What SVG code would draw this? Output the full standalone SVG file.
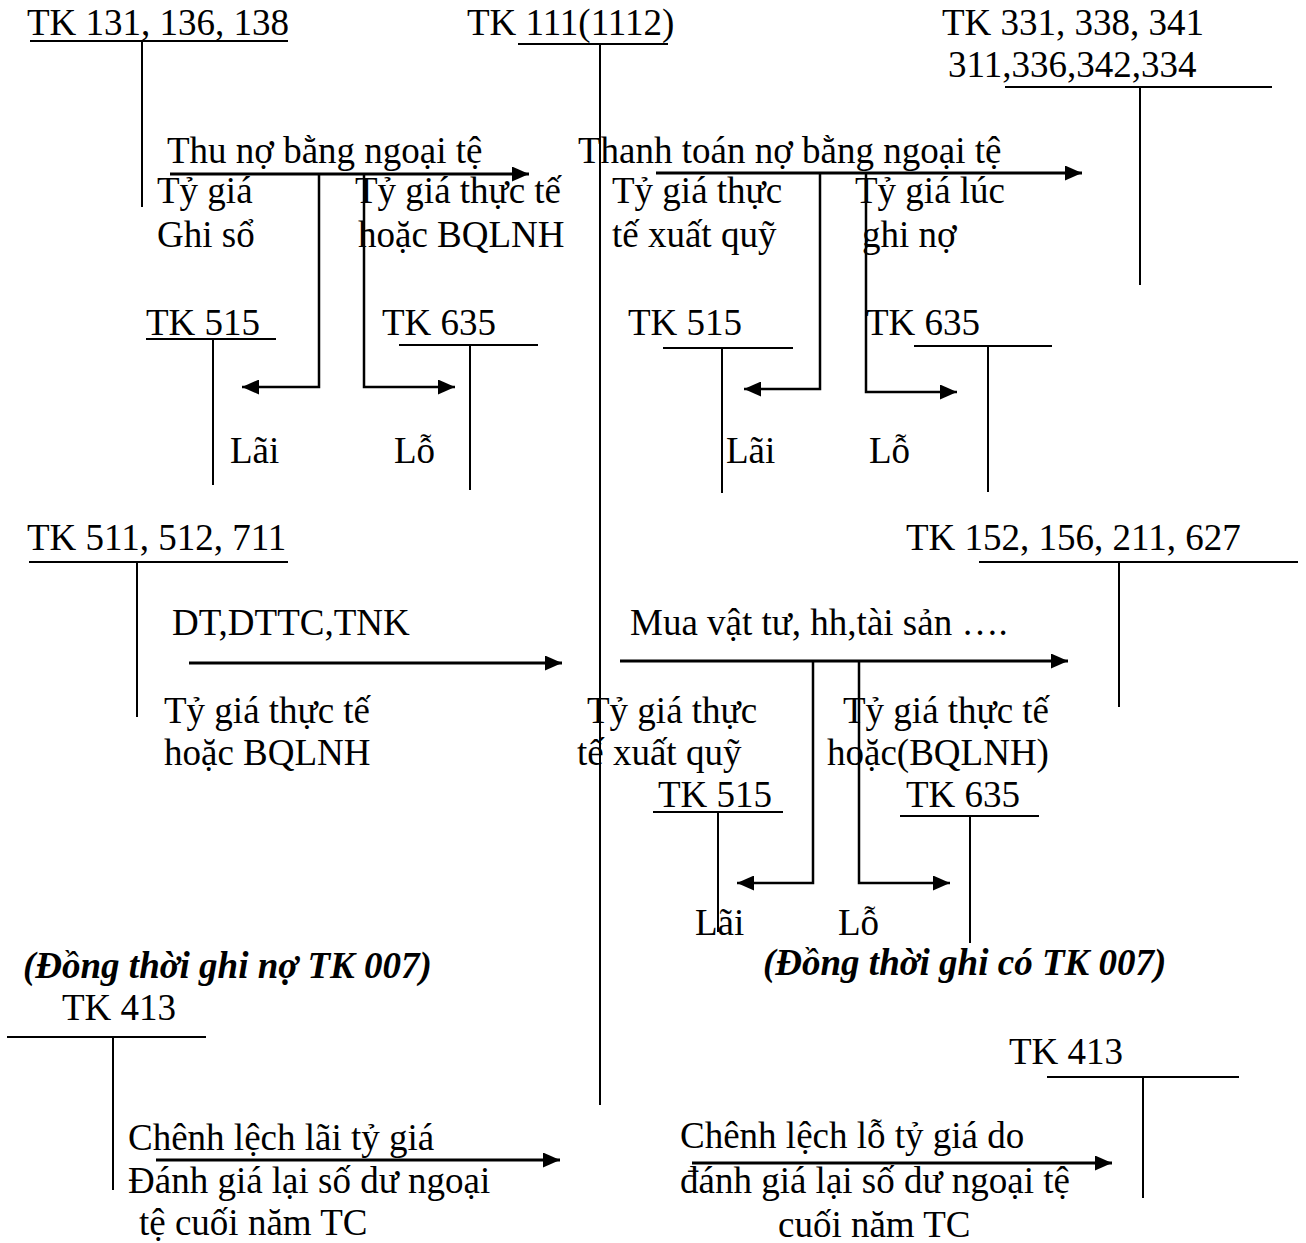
<svg xmlns="http://www.w3.org/2000/svg" width="1306" height="1243" viewBox="0 0 1306 1243">
  <style>
    text { font-family: "Liberation Serif", "Times New Roman", serif; font-size: 37px; fill: #000; }
    .bi { font-weight: bold; font-style: italic; }
    .t { stroke: #000; stroke-width: 2; fill: none; }
    .ar { stroke: #000; stroke-width: 3; fill: none; marker-end: url(#ah); }
    .br { stroke: #000; stroke-width: 2.5; fill: none; marker-end: url(#ah); }
  </style>
  <defs>
    <marker id="ah" markerUnits="userSpaceOnUse" markerWidth="17" markerHeight="15" refX="17" refY="7.5" orient="auto">
      <path d="M0,0 L17,7.5 L0,15 z" fill="#000"/>
    </marker>
  </defs>
  <rect width="1306" height="1243" fill="#fff"/>

  <!-- T-accounts -->
  <g id="tk131">
    <text x="27" y="35">TK 131, 136, 138</text>
    <line class="t" x1="30" y1="41" x2="288" y2="41"/>
    <line class="t" x1="142" y1="41" x2="142" y2="207"/>
  </g>
  <g id="tk111">
    <text x="467" y="35">TK 111(1112)</text>
    <line class="t" x1="518" y1="44" x2="668" y2="44"/>
    <line class="t" x1="600" y1="44" x2="600" y2="1105"/>
  </g>
  <g id="tk331">
    <text x="942" y="35">TK 331, 338, 341</text>
    <text x="948" y="77">311,336,342,334</text>
    <line class="t" x1="1005" y1="87" x2="1272" y2="87"/>
    <line class="t" x1="1140" y1="87" x2="1140" y2="285"/>
  </g>
  <g id="tk515a">
    <text x="146" y="335">TK 515</text>
    <line class="t" x1="146" y1="339" x2="276" y2="339"/>
    <line class="t" x1="213" y1="339" x2="213" y2="485"/>
  </g>
  <g id="tk635a">
    <text x="382" y="335">TK 635</text>
    <line class="t" x1="399" y1="345" x2="538" y2="345"/>
    <line class="t" x1="470" y1="345" x2="470" y2="490"/>
  </g>
  <g id="tk515b">
    <text x="628" y="335">TK 515</text>
    <line class="t" x1="663" y1="348" x2="793" y2="348"/>
    <line class="t" x1="722" y1="348" x2="722" y2="493"/>
  </g>
  <g id="tk635b">
    <text x="866" y="335">TK 635</text>
    <line class="t" x1="914" y1="346" x2="1052" y2="346"/>
    <line class="t" x1="988" y1="346" x2="988" y2="492"/>
  </g>
  <g id="tk511">
    <text x="27" y="550">TK 511, 512, 711</text>
    <line class="t" x1="29" y1="562" x2="288" y2="562"/>
    <line class="t" x1="137" y1="562" x2="137" y2="717"/>
  </g>
  <g id="tk152">
    <text x="906" y="550">TK 152, 156, 211, 627</text>
    <line class="t" x1="979" y1="562" x2="1298" y2="562"/>
    <line class="t" x1="1119" y1="562" x2="1119" y2="707"/>
  </g>
  <g id="tk515c">
    <text x="658" y="807">TK 515</text>
    <line class="t" x1="653" y1="812" x2="783" y2="812"/>
    <line class="t" x1="718" y1="812" x2="718" y2="932"/>
  </g>
  <g id="tk635c">
    <text x="906" y="807">TK 635</text>
    <line class="t" x1="900" y1="816" x2="1039" y2="816"/>
    <line class="t" x1="970" y1="816" x2="970" y2="943"/>
  </g>
  <g id="tk413a">
    <text x="62" y="1020">TK 413</text>
    <line class="t" x1="7" y1="1037" x2="206" y2="1037"/>
    <line class="t" x1="113" y1="1037" x2="113" y2="1190"/>
  </g>
  <g id="tk413b">
    <text x="1009" y="1064">TK 413</text>
    <line class="t" x1="1047" y1="1077" x2="1239" y2="1077"/>
    <line class="t" x1="1143" y1="1077" x2="1143" y2="1198"/>
  </g>

  <!-- Connectors -->
  <g id="connectors">
    <line class="ar" x1="170" y1="174" x2="529" y2="174"/>
    <polyline class="br" points="319,174 319,387 242,387"/>
    <polyline class="br" points="364,174 364,387 455,387"/>
    <line class="ar" x1="656" y1="173" x2="1082" y2="173"/>
    <polyline class="br" points="820,173 820,389 744,389"/>
    <polyline class="br" points="866,173 866,392 957,392"/>
    <line class="ar" x1="189" y1="663" x2="562" y2="663"/>
    <line class="ar" x1="620" y1="661" x2="1068" y2="661"/>
    <polyline class="br" points="813,661 813,883 737,883"/>
    <polyline class="br" points="859,661 859,883 950,883"/>
    <line class="ar" x1="156" y1="1160" x2="560" y2="1160"/>
    <line class="ar" x1="692" y1="1163" x2="1112" y2="1163"/>
  </g>

  <!-- Connector labels -->
  <g id="labels">
    <text x="167" y="163">Thu nợ bằng ngoại tệ</text>
    <text x="157" y="203">Tỷ giá</text>
    <text x="157" y="247">Ghi sổ</text>
    <text x="355" y="203">Tỷ giá thực tế</text>
    <text x="358" y="247">hoặc BQLNH</text>
    <text x="578" y="163">Thanh toán nợ bằng ngoại tệ</text>
    <text x="612" y="203">Tỷ giá thực</text>
    <text x="612" y="247">tế xuất quỹ</text>
    <text x="855" y="203">Tỷ giá lúc</text>
    <text x="862" y="247">ghi nợ</text>
    <text x="230" y="463">Lãi</text>
    <text x="394" y="463">Lỗ</text>
    <text x="726" y="463">Lãi</text>
    <text x="869" y="463">Lỗ</text>
    <text x="172" y="635">DT,DTTC,TNK</text>
    <text x="630" y="635">Mua vật tư, hh,tài sản ….</text>
    <text x="164" y="723">Tỷ giá thực tế</text>
    <text x="164" y="765">hoặc BQLNH</text>
    <text x="587" y="723">Tỷ giá thực</text>
    <text x="577" y="765">tế xuất quỹ</text>
    <text x="843" y="723">Tỷ giá thực tế</text>
    <text x="827" y="765">hoặc(BQLNH)</text>
    <text x="695" y="935">Lãi</text>
    <text x="838" y="935">Lỗ</text>
    <text class="bi" x="23" y="978">(Đồng thời ghi nợ TK 007)</text>
    <text class="bi" x="763" y="975">(Đồng thời ghi có TK 007)</text>
    <text x="128" y="1150">Chênh lệch lãi tỷ giá</text>
    <text x="128" y="1193">Đánh giá lại số dư ngoại</text>
    <text x="139" y="1235">tệ cuối năm TC</text>
    <text x="680" y="1148">Chênh lệch lỗ tỷ giá do</text>
    <text x="680" y="1193">đánh giá lại số dư ngoại tệ</text>
    <text x="778" y="1237">cuối năm TC</text>
  </g>
</svg>
